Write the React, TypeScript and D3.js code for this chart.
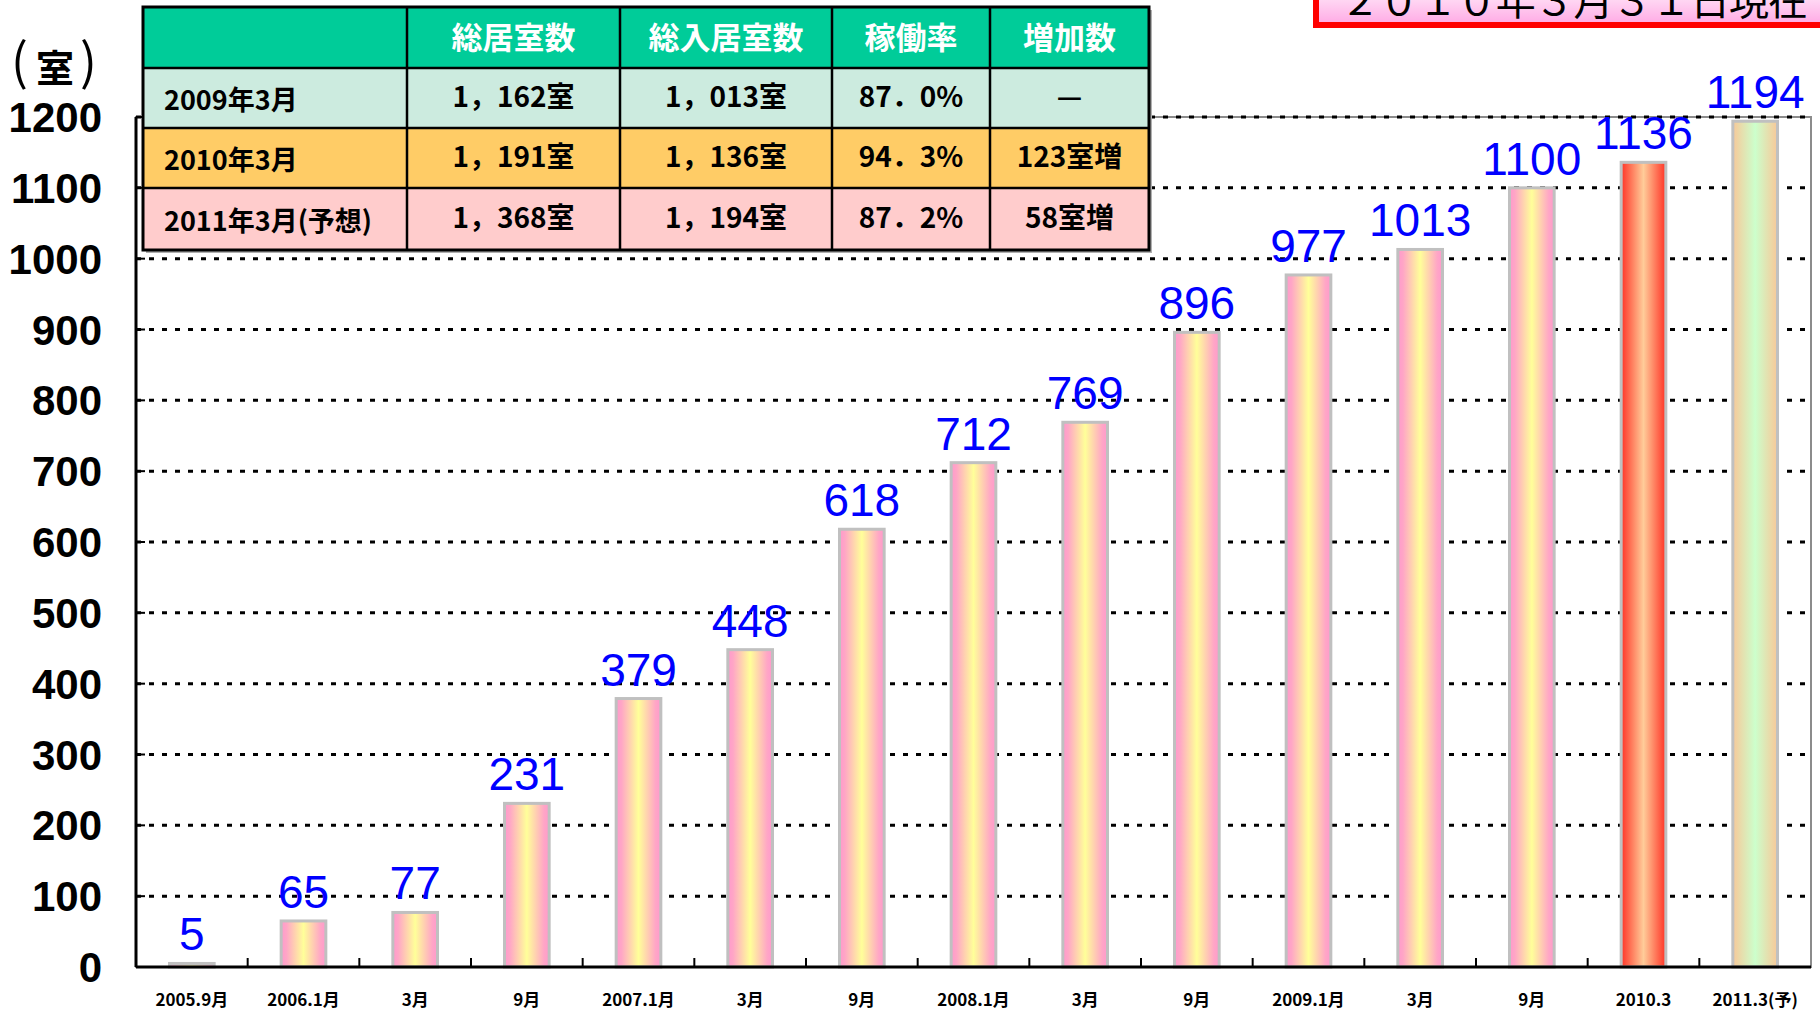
import React from "react";
import * as d3 from "d3";

const categories = ["2005.9月", "2006.1月", "3月", "9月", "2007.1月", "3月", "9月", "2008.1月", "3月", "9月", "2009.1月", "3月", "9月", "2010.3", "2011.3(予)"];
const values = [5, 65, 77, 231, 379, 448, 618, 712, 769, 896, 977, 1013, 1100, 1136, 1194];
const barKinds = ["past", "past", "past", "past", "past", "past", "past", "past", "past", "past", "past", "past", "past", "current", "forecast"];
const yTicks = [0, 100, 200, 300, 400, 500, 600, 700, 800, 900, 1000, 1100, 1200];

const tableHeaders = ["", "総居室数", "総入居室数", "稼働率", "増加数"];
const rowLabels = ["2009年3月", "2010年3月", "2011年3月(予想)"];
const totalRooms = ["1，162室", "1，191室", "1，368室"];
const occupiedRooms = ["1，013室", "1，136室", "1，194室"];
const occupancyRates = ["87．0%", "94．3%", "87．2%"];
const increases = ["—", "123室増", "58室増"];

const W = 1820;
const H = 1012;
const M = { left: 136, right: 1811, top: 117, bottom: 967 };

const JP = "'Noto Sans CJK JP', 'Noto Sans', sans-serif";

export default function App() {
  const x = d3
    .scaleBand<number>()
    .domain(d3.range(categories.length))
    .range([M.left, M.right])
    .paddingInner(0.6)
    .paddingOuter(0.3);
  const y = d3.scaleLinear().domain([0, 1200]).range([M.bottom, M.top]);
  const step = x.step();

  const gradId = (k: string) => `grad-${k}`;

  const colX = [143, 407, 620, 832, 990, 1149];
  const rowY = [7, 68, 128, 188, 250];
  const rowFills = ["#CCEBDF", "#FFCC66", "#FFCCCC"];
  const rowCols = [rowLabels, totalRooms, occupiedRooms, occupancyRates, increases];

  return (
    <div style={{ position: "absolute", left: 0, top: 0 }}>
      <svg width={W} height={H} style={{ display: "block", background: "#fff" }}>
        <defs>
          <linearGradient id={gradId("past")} x1="0" x2="1" y1="0" y2="0">
            <stop offset="0" stopColor="#FF99CC" />
            <stop offset="0.12" stopColor="#FFA6C6" />
            <stop offset="0.5" stopColor="#FFFF99" />
            <stop offset="0.88" stopColor="#FFA6C6" />
            <stop offset="1" stopColor="#FF99CC" />
          </linearGradient>
          <linearGradient id={gradId("current")} x1="0" x2="1" y1="0" y2="0">
            <stop offset="0" stopColor="#FF3326" />
            <stop offset="0.5" stopColor="#FFCC99" />
            <stop offset="1" stopColor="#FF3326" />
          </linearGradient>
          <linearGradient id={gradId("forecast")} x1="0" x2="1" y1="0" y2="0">
            <stop offset="0" stopColor="#F8C898" />
            <stop offset="0.5" stopColor="#CCFFCC" />
            <stop offset="1" stopColor="#F8C898" />
          </linearGradient>
          <linearGradient id="titleGrad" x1="0" x2="0" y1="0" y2="1">
            <stop offset="0" stopColor="#FFFFFF" />
            <stop offset="0.6" stopColor="#FFE0F6" />
            <stop offset="1" stopColor="#FFA8E4" />
          </linearGradient>
        </defs>

        {/* plot frame */}
        <rect x={M.left} y={M.top} width={M.right - M.left} height={M.bottom - M.top} fill="none" stroke="#8c8c8c" strokeWidth={2} />

        {/* gridlines */}
        {yTicks.filter((t) => t > 0).map((t) => (
          <line key={t} x1={M.left} x2={M.right} y1={y(t)} y2={y(t)} stroke="#000" strokeWidth={3} strokeDasharray="5 8" />
        ))}

        {/* y ticks */}
        {yTicks.map((t) => (
          <g key={t}>
            <line x1={M.left} x2={M.left + 9} y1={y(t)} y2={y(t)} stroke="#000" strokeWidth={2} />
            <text
              x={102}
              y={y(t) + 15}
              textAnchor="end"
              fontFamily="'Liberation Sans', Arial, sans-serif"
              fontWeight="bold"
              fontSize={42}
              fill="#000"
            >
              {t}
            </text>
          </g>
        ))}

        {/* bars */}
        {values.map((v, i) => (
          <rect
            key={i}
            x={x(i)!}
            y={y(v)}
            width={x.bandwidth()}
            height={y(0) - y(v)}
            fill={`url(#${gradId(barKinds[i])})`}
            stroke="#C0C0C0"
            strokeWidth={3}
          />
        ))}

        {/* axes */}
        <line x1={M.left} x2={M.left} y1={M.top} y2={M.bottom} stroke="#000" strokeWidth={3} />
        <line x1={M.left} x2={M.right} y1={M.bottom} y2={M.bottom} stroke="#000" strokeWidth={3} />
        {d3.range(1, categories.length).map((i) => (
          <line key={i} x1={M.left + step * i} x2={M.left + step * i} y1={M.bottom} y2={M.bottom - 9} stroke="#000" strokeWidth={2} />
        ))}

        {/* x labels */}
        {categories.map((c, i) => (
          <text
            key={i}
            x={x(i)! + x.bandwidth() / 2}
            y={1006}
            textAnchor="middle"
            fontFamily={JP}
            fontWeight="bold"
            fontSize={17}
            fill="#000"
          >
            {c}
          </text>
        ))}

        {/* value labels */}
        {values.map((v, i) => (
          <text
            key={i}
            x={x(i)! + x.bandwidth() / 2}
            y={y(v) - 13}
            textAnchor="middle"
            fontFamily="'Liberation Sans', Arial, sans-serif"
            fontSize={46}
            fill="#0000FF"
          >
            {v}
          </text>
        ))}

        {/* unit */}
        <g fontFamily={JP} fill="#000">
          <text x={11} y={80} fontSize={50}>(</text>
          <text x={36} y={82} fontSize={38} fontWeight="bold">室</text>
          <text x={80} y={80} fontSize={50}>)</text>
        </g>

        {/* table */}
        <rect x={colX[0] + 3} y={rowY[0] + 3} width={colX[5] - colX[0]} height={rowY[4] - rowY[0]} fill="#b0b0b0" />
        <rect x={colX[0]} y={rowY[0]} width={colX[5] - colX[0]} height={rowY[1] - rowY[0]} fill="#00CC99" />
        {rowFills.map((f, r) => (
          <rect key={r} x={colX[0]} y={rowY[r + 1]} width={colX[5] - colX[0]} height={rowY[r + 2] - rowY[r + 1]} fill={f} />
        ))}
        {rowY.slice(1, 4).map((ry, i) => (
          <line key={i} x1={colX[0]} x2={colX[5]} y1={ry} y2={ry} stroke="#000" strokeWidth={2.5} />
        ))}
        {colX.slice(1, 5).map((cx, i) => (
          <line key={i} x1={cx} x2={cx} y1={rowY[0]} y2={rowY[4]} stroke="#000" strokeWidth={2.5} />
        ))}
        <rect x={colX[0]} y={rowY[0]} width={colX[5] - colX[0]} height={rowY[4] - rowY[0]} fill="none" stroke="#000" strokeWidth={3} />
        {tableHeaders.map((h, c) =>
          h ? (
            <text
              key={c}
              x={(colX[c] + colX[c + 1]) / 2}
              y={(rowY[0] + rowY[1]) / 2 + 11}
              textAnchor="middle"
              fontFamily={JP}
              fontWeight="bold"
              fontSize={31}
              fill="#fff"
            >
              {h}
            </text>
          ) : null
        )}
        {rowCols.map((col, c) =>
          col.map((t, r) => (
            <text
              key={`${c}-${r}`}
              x={c === 0 ? colX[0] + 21 : (colX[c] + colX[c + 1]) / 2}
              y={(rowY[r + 1] + rowY[r + 2]) / 2 + (c === 0 ? 12 : 9)}
              textAnchor={c === 0 ? "start" : "middle"}
              fontFamily={JP}
              fontWeight="bold"
              fontSize={c === 0 ? 27 : 28}
              fill="#000"
            >
              {t}
            </text>
          ))
        )}

        {/* title box (cut off at top as in the source) */}
        <rect x={1316} y={-50} width={560} height={75} fill="url(#titleGrad)" stroke="#FF0000" strokeWidth={6} />
        <text x={1340} y={15} fontFamily={JP} fontSize={40} fill="#000" textLength={468} lengthAdjust="spacing">
          ２０１０年３月３１日現在
        </text>
      </svg>
    </div>
  );
}
